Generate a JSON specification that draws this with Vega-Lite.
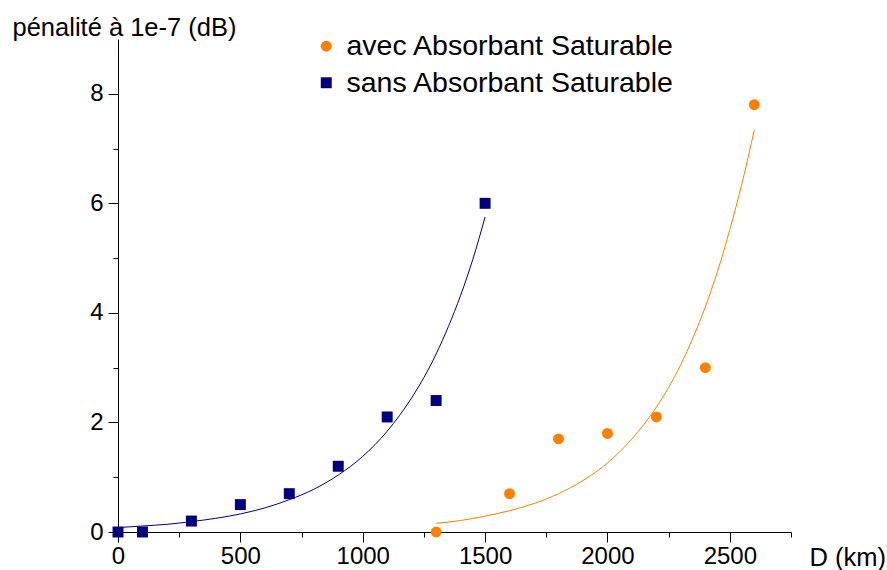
{
  "$schema": "https://vega.github.io/schema/vega-lite/v6.json",
  "width": 673,
  "height": 493,
  "autosize": {"type": "none"},
  "padding": {"left": 118, "top": 39, "right": 96, "bottom": 38},
  "background": "white",
  "config": {
    "view": {"stroke": null},
    "font": "Liberation Sans",
    "axis": {
      "grid": false,
      "domainColor": "black",
      "domainWidth": 1,
      "tickColor": "black",
      "tickWidth": 1,
      "labelColor": "black",
      "labelFont": "Liberation Sans",
      "labelFontSize": 24,
      "titleFont": "Liberation Sans",
      "titleFontSize": 25.5,
      "titleFontWeight": "normal",
      "titleColor": "black",
      "labelFlush": false,
      "labelOverlap": false
    }
  },
  "datasets": {
    "pts": [
      {"D": 0, "v": 0, "serie": "sans Absorbant Saturable"},
      {"D": 100, "v": 0, "serie": "sans Absorbant Saturable"},
      {"D": 300, "v": 0.2, "serie": "sans Absorbant Saturable"},
      {"D": 500, "v": 0.5, "serie": "sans Absorbant Saturable"},
      {"D": 700, "v": 0.7, "serie": "sans Absorbant Saturable"},
      {"D": 900, "v": 1.2, "serie": "sans Absorbant Saturable"},
      {"D": 1100, "v": 2.1, "serie": "sans Absorbant Saturable"},
      {"D": 1300, "v": 2.4, "serie": "sans Absorbant Saturable"},
      {"D": 1500, "v": 6.0, "serie": "sans Absorbant Saturable"},
      {"D": 1300, "v": 0, "serie": "avec Absorbant Saturable"},
      {"D": 1600, "v": 0.7, "serie": "avec Absorbant Saturable"},
      {"D": 1800, "v": 1.7, "serie": "avec Absorbant Saturable"},
      {"D": 2000, "v": 1.8, "serie": "avec Absorbant Saturable"},
      {"D": 2200, "v": 2.1, "serie": "avec Absorbant Saturable"},
      {"D": 2400, "v": 3.0, "serie": "avec Absorbant Saturable"},
      {"D": 2600, "v": 7.8, "serie": "avec Absorbant Saturable"}
    ],
    "fitSans": [
      {"D": 0, "v": 0.08}, {"D": 100, "v": 0.11}, {"D": 200, "v": 0.14},
      {"D": 300, "v": 0.19}, {"D": 400, "v": 0.25}, {"D": 500, "v": 0.33},
      {"D": 600, "v": 0.44}, {"D": 700, "v": 0.59}, {"D": 800, "v": 0.78},
      {"D": 900, "v": 1.04}, {"D": 1000, "v": 1.38}, {"D": 1100, "v": 1.84},
      {"D": 1200, "v": 2.45}, {"D": 1250, "v": 2.82}, {"D": 1300, "v": 3.25},
      {"D": 1350, "v": 3.75}, {"D": 1400, "v": 4.32}, {"D": 1450, "v": 4.98},
      {"D": 1500, "v": 5.75}
    ],
    "fitAvec": [
      {"D": 1300, "v": 0.16}, {"D": 1400, "v": 0.21}, {"D": 1500, "v": 0.29},
      {"D": 1600, "v": 0.39}, {"D": 1700, "v": 0.52}, {"D": 1800, "v": 0.70},
      {"D": 1900, "v": 0.94}, {"D": 2000, "v": 1.26}, {"D": 2100, "v": 1.70},
      {"D": 2200, "v": 2.28}, {"D": 2250, "v": 2.64}, {"D": 2300, "v": 3.06},
      {"D": 2350, "v": 3.55}, {"D": 2400, "v": 4.11}, {"D": 2450, "v": 4.76},
      {"D": 2500, "v": 5.52}, {"D": 2550, "v": 6.37}, {"D": 2600, "v": 7.34}
    ]
  },
  "encoding": {
    "x": {
      "field": "D",
      "type": "quantitative",
      "scale": {"domain": [0, 2750], "nice": false, "zero": false},
      "axis": {
        "title": "D (km)",
        "values": [0, 250, 500, 750, 1000, 1250, 1500, 1750, 2000, 2250, 2500, 2750],
        "format": "d",
        "labelExpr": "datum.value % 500 === 0 ? datum.label : ''",
        "tickSize": {"condition": {"test": "datum.value % 500 === 0", "value": 10}, "value": 5},
        "labelPadding": 2,
        "titleX": 691,
        "titleY": 33,
        "titleAlign": "left",
        "titleBaseline": "alphabetic",
        "titleAnchor": null
      }
    },
    "y": {
      "field": "v",
      "type": "quantitative",
      "scale": {"domain": [0, 9], "nice": false},
      "axis": {
        "title": "pénalité à 1e-7 (dB)",
        "values": [0, 1, 2, 3, 4, 5, 6, 7, 8],
        "format": "d",
        "labelExpr": "datum.value % 2 === 0 ? datum.label : ''",
        "tickSize": {"condition": {"test": "datum.value % 2 === 0", "value": 10}, "value": 5},
        "labelPadding": 5,
        "titleAngle": 0,
        "titleX": -106,
        "titleY": -4,
        "titleAlign": "left",
        "titleBaseline": "alphabetic",
        "titleAnchor": null
      }
    }
  },
  "layer": [
    {
      "data": {"name": "fitSans"},
      "mark": {"type": "line", "color": "#000080", "strokeWidth": 1, "interpolate": "monotone"}
    },
    {
      "data": {"name": "fitAvec"},
      "mark": {"type": "line", "color": "#ff8000", "strokeWidth": 1, "interpolate": "monotone"}
    },
    {
      "data": {"name": "pts"},
      "mark": {"type": "point", "filled": true, "opacity": 1, "size": 120, "strokeWidth": 0},
      "encoding": {
        "color": {
          "field": "serie",
          "type": "nominal",
          "scale": {"domain": ["avec Absorbant Saturable", "sans Absorbant Saturable"], "range": ["#ff8000", "#000080"]},
          "legend": {
            "title": null,
            "orient": "none",
            "legendX": 194,
            "legendY": -7,
            "labelFontSize": 28.5,
            "labelFont": "Liberation Sans",
            "labelColor": "black",
            "labelLimit": 0,
            "labelOffset": 6,
            "symbolSize": 120,
            "symbolStrokeWidth": 0,
            "rowPadding": 7.5,
            "padding": 0
          }
        },
        "shape": {
          "field": "serie",
          "type": "nominal",
          "scale": {"domain": ["avec Absorbant Saturable", "sans Absorbant Saturable"], "range": ["circle", "square"]}
        }
      }
    }
  ]
}
